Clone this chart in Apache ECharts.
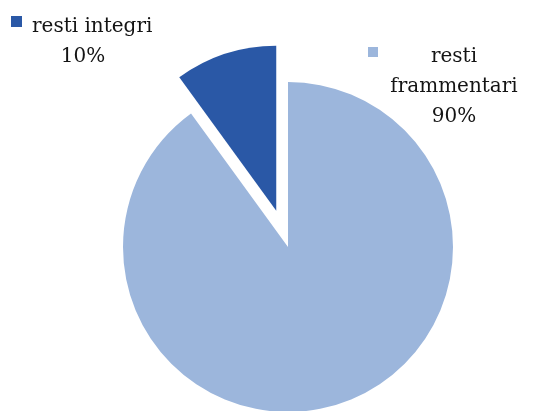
<!DOCTYPE html>
<html>
<head>
<meta charset="utf-8">
<script src="https://cdn.jsdelivr.net/npm/echarts@6/dist/echarts.min.js"></script>
<style>html,body{margin:0;padding:0;background:#fff;}#c{width:539px;height:411px;}</style>
</head>
<body>
<div id="c"></div>
<script>
const categories = ['resti frammentari', 'resti integri'];
const values = [90, 10];
const colors = ['#9CB6DC', '#2A58A6'];
const labelLines = [['resti', 'frammentari'], ['resti integri']];

const total = values.reduce((a, b) => a + b, 0);
const pct = i => Math.round(values[i] / total * 100) + '%';
const font = '"DejaVu Serif", serif';
const txt = {fontFamily: font, fontSize: 20, fontWeight: 'normal', color: '#141414', lineHeight: 30};

const chart = echarts.init(document.getElementById('c'), null, {renderer: 'canvas'});

function keyLegend(name, left, top, size) {
  return {
    data: [name], left: left, top: top, padding: 0, itemGap: 0,
    orient: 'horizontal', icon: 'rect', itemWidth: size, itemHeight: size,
    selectedMode: false, formatter: () => '',
    textStyle: {fontSize: 8, padding: 0}
  };
}

chart.setOption({
  backgroundColor: '#ffffff',
  animation: false,
  legend: [
    keyLegend(categories[1], 11, 16, 11),
    keyLegend(categories[0], 368, 47, 10)
  ],
  title: [{
    left: 32, top: 12, padding: 0,
    text: '{l|' + labelLines[1][0] + '}\n{c|' + pct(1) + '}',
    textStyle: {
      width: 102,
      rich: {
        l: Object.assign({align: 'left'}, txt),
        c: Object.assign({align: 'center'}, txt)
      }
    }
  }, {
    left: 384, top: 42, padding: 0,
    text: labelLines[0].map(s => '{c|' + s + '}').join('\n') + '\n{c|' + pct(0) + '}',
    textStyle: {
      width: 140,
      rich: {
        c: Object.assign({align: 'center'}, txt)
      }
    }
  }],
  series: [{
    type: 'pie',
    center: [288, 247],
    radius: 165,
    startAngle: 90,
    clockwise: true,
    selectedMode: 'single',
    selectedOffset: 38,
    emphasis: {disabled: true},
    label: {show: false},
    labelLine: {show: false},
    data: categories.map((c, i) => ({
      name: c,
      value: values[i],
      selected: i === 1,
      itemStyle: {color: colors[i]}
    }))
  }]
});
</script>
</body>
</html>
